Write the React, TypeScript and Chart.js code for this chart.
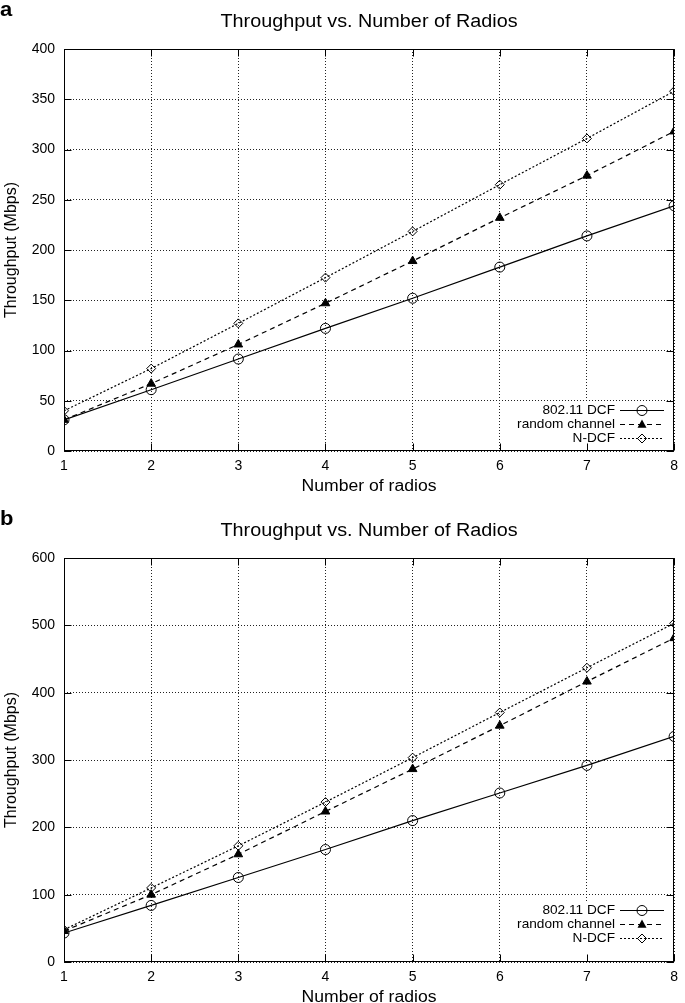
import React, { useEffect, useRef } from "react";
import { Chart, registerables } from "chart.js";

Chart.register(...registerables);

const radios = [1, 2, 3, 4, 5, 6, 7, 8];
const seriesNames = ["802.11 DCF", "random channel", "N-DCF"];

const dcfA = [31, 61, 91.5, 122, 152, 183, 214, 244];
const randomA = [31, 67, 106, 147, 189, 232, 274, 318];
const ndcfA = [40, 82, 127, 172.5, 218.5, 265, 311, 358];

const dcfB = [43, 84, 125.5, 167, 210, 251, 292, 335];
const randomB = [46, 100, 160, 223.5, 286.5, 351, 416.5, 481];
const ndcfB = [48, 110, 172.5, 237.5, 303.5, 370.5, 437, 503];

const yMaxA = 400;
const yStepA = 50;
const yMaxB = 600;
const yStepB = 100;

const titleText = "Throughput vs. Number of Radios";
const xTitle = "Number of radios";
const yTitle = "Throughput (Mbps)";

const FONT = "'Liberation Sans', Arial, Helvetica, sans-serif";
const SX = 1.1;

type PanelCfg = {
  letter: string;
  series: number[][];
  yMax: number;
  yStep: number;
  top: number;
  height: number;
  padTop: number;
  xAxisHeight: number;
  legendRows: number[];
  blankTop: number;
};

const styles = [
  { dash: [] as number[], marker: "circle" },
  { dash: [5, 4], marker: "triangle" },
  { dash: [2, 2], marker: "diamond" },
];

function stretchText(ctx: CanvasRenderingContext2D, text: string, x: number, y: number, align: CanvasTextAlign, sx = SX) {
  ctx.save();
  ctx.translate(x, y);
  ctx.scale(sx, 1);
  ctx.textAlign = align;
  ctx.fillText(text, 0, 0);
  ctx.restore();
}

function drawMarker(ctx: CanvasRenderingContext2D, kind: string, x: number, y: number) {
  ctx.save();
  ctx.setLineDash([]);
  ctx.lineWidth = 1;
  ctx.strokeStyle = "#000";
  ctx.fillStyle = "#000";
  ctx.beginPath();
  if (kind === "circle") {
    ctx.arc(x, y, 5, 0, Math.PI * 2);
    ctx.stroke();
  } else if (kind === "triangle") {
    ctx.moveTo(x, y - 5);
    ctx.lineTo(x + 4.5, y + 3.3);
    ctx.lineTo(x - 4.5, y + 3.3);
    ctx.closePath();
    ctx.fill();
  } else {
    ctx.moveTo(x, y - 4.5);
    ctx.lineTo(x + 4.5, y);
    ctx.lineTo(x, y + 4.5);
    ctx.lineTo(x - 4.5, y);
    ctx.closePath();
    ctx.stroke();
  }
  ctx.restore();
}

function makeDecor(cfg: PanelCfg) {
  return {
    id: "decor",
    beforeDatasetsDraw(chart: any) {
      const { ctx, chartArea: ca } = chart;
      ctx.save();
      ctx.fillStyle = "#fff";
      ctx.fillRect(500, cfg.blankTop, ca.right - 1 - 500, ca.bottom - 1 - cfg.blankTop);
      ctx.restore();
    },
    afterDraw(chart: any) {
      const { ctx, chartArea: ca, scales } = chart;
      const xs = scales.x;
      const ys = scales.y;
      ctx.save();
      ctx.strokeStyle = "#000";
      ctx.lineWidth = 1;
      ctx.setLineDash([]);
      const L = Math.round(ca.left) + 0.5;
      const R = Math.round(ca.right) - 0.5;
      const T = Math.round(ca.top) + 0.5;
      const B = Math.round(ca.bottom) - 0.5;
      ctx.strokeRect(L, T, R - L, B - T);
      ctx.beginPath();
      xs.ticks.forEach((t: any) => {
        const px = Math.round(xs.getPixelForValue(t.value)) + 0.5;
        ctx.moveTo(px, B);
        ctx.lineTo(px, B - 7);
        ctx.moveTo(px, T);
        ctx.lineTo(px, T + 7);
      });
      ys.ticks.forEach((t: any) => {
        const py = Math.round(ys.getPixelForValue(t.value)) + 0.5;
        ctx.moveTo(L, py);
        ctx.lineTo(L + 7, py);
        ctx.moveTo(R, py);
        ctx.lineTo(R - 7, py);
      });
      ctx.stroke();

      ctx.fillStyle = "#000";
      // panel letter
      ctx.font = `bold 20px ${FONT}`;
      ctx.textBaseline = "alphabetic";
      stretchText(ctx, cfg.letter, 0, ca.top - 33, "left");
      // title
      ctx.textBaseline = "middle";
      ctx.font = `18px ${FONT}`;
      stretchText(ctx, titleText, (ca.left + ca.right) / 2, ca.top - 27, "center");
      // x title
      ctx.font = `16px ${FONT}`;
      stretchText(ctx, xTitle, (ca.left + ca.right) / 2, ca.bottom + 36, "center");
      // y title
      ctx.save();
      ctx.translate(12, (ca.top + ca.bottom) / 2);
      ctx.rotate(-Math.PI / 2);
      ctx.textAlign = "center";
      ctx.font = `16px ${FONT}`;
      ctx.fillText(yTitle, 0, 0);
      ctx.restore();

      // legend
      ctx.font = `13px ${FONT}`;
      seriesNames.forEach((name, i) => {
        const y = ca.bottom + cfg.legendRows[i];
        ctx.fillStyle = "#000";
        stretchText(ctx, name, 615, y, "right", 1.05);
        ctx.save();
        ctx.strokeStyle = "#000";
        ctx.lineWidth = 1;
        ctx.setLineDash(styles[i].dash);
        ctx.beginPath();
        ctx.moveTo(620, Math.round(y) + 0.5);
        ctx.lineTo(664, Math.round(y) + 0.5);
        ctx.stroke();
        ctx.restore();
        drawMarker(ctx, styles[i].marker, 642, Math.round(y) + 0.5);
      });
      ctx.restore();
    },
  };
}

function Panel({ cfg }: { cfg: PanelCfg }) {
  const ref = useRef<HTMLCanvasElement | null>(null);
  useEffect(() => {
    if (!ref.current) return;
    const tickFont = { family: FONT, size: 14 };
    const ds = cfg.series.map((vals, i) => ({
      label: seriesNames[i],
      data: radios.map((r, k) => ({ x: r, y: vals[k] })),
      borderColor: "#000",
      borderWidth: 1.2,
      borderDash: styles[i].dash,
      backgroundColor: i === 1 ? "#000" : "rgba(0,0,0,0)",
      pointStyle: i === 0 ? "circle" : i === 1 ? "triangle" : "rectRot",
      pointRadius: i === 0 ? 5 : i === 1 ? 5 : 4.5,
      pointBorderColor: "#000",
      pointBackgroundColor: i === 1 ? "#000" : "rgba(0,0,0,0)",
      pointBorderWidth: 1,
      tension: 0,
      fill: false,
    }));
    const chart = new Chart(ref.current, {
      type: "line",
      data: { datasets: ds as any },
      options: {
        animation: false,
        responsive: false,
        maintainAspectRatio: false,
        layout: { padding: { left: 0, right: 5, top: cfg.padTop, bottom: 0 } },
        plugins: { legend: { display: false }, title: { display: false }, tooltip: { enabled: false } },
        scales: {
          x: {
            type: "linear",
            min: 1,
            max: 8,
            ticks: { stepSize: 1, color: "#000", font: tickFont, padding: 7 },
            grid: { color: "#222", lineWidth: 1, drawTicks: false },
            border: { display: false, dash: [1, 2] },
            afterFit: (s: any) => {
              s.height = cfg.xAxisHeight;
            },
          },
          y: {
            type: "linear",
            min: 0,
            max: cfg.yMax,
            ticks: { stepSize: cfg.yStep, color: "#000", font: tickFont, padding: 9 },
            grid: { color: "#222", lineWidth: 1, drawTicks: false },
            border: { display: false, dash: [1, 2] },
            afterFit: (s: any) => {
              s.width = 64;
            },
          },
        },
      } as any,
      plugins: [makeDecor(cfg)],
    });
    return () => chart.destroy();
  }, []);
  return (
    <canvas
      ref={ref}
      width={685}
      height={cfg.height}
      style={{ position: "absolute", left: 0, top: cfg.top, width: 685, height: cfg.height, display: "block" }}
    />
  );
}

const panelA: PanelCfg = {
  letter: "a",
  series: [dcfA, randomA, ndcfA],
  yMax: yMaxA,
  yStep: yStepA,
  top: 0,
  height: 500,
  padTop: 49,
  xAxisHeight: 49,
  legendRows: [-41, -27, -13],
  blankTop: 402,
};

const panelB: PanelCfg = {
  letter: "b",
  series: [dcfB, randomB, ndcfB],
  yMax: yMaxB,
  yStep: yStepB,
  top: 502,
  height: 501,
  padTop: 56,
  xAxisHeight: 41,
  legendRows: [-52, -38, -24],
  blankTop: 401,
};

export default function App() {
  return (
    <div style={{ position: "absolute", left: 0, top: 0, width: 685, height: 1003, background: "#fff", overflow: "hidden" }}>
      <Panel cfg={panelA} />
      <Panel cfg={panelB} />
    </div>
  );
}
